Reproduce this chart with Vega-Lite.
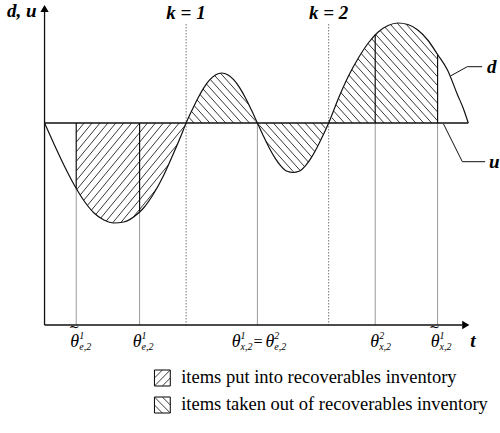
{
  "$schema": "https://vega.github.io/schema/vega-lite/v6.json",
  "width": 500,
  "height": 433,
  "autosize": {"type": "fit", "contains": "padding"},
  "padding": 0,
  "background": "white",
  "config": {"view": {"stroke": null}},
  "datasets": {
    "curve": [
      {"t": 0, "d": 0, "lo": 0, "hi": 0},
      {"t": 1, "d": -2.2, "lo": -2.2, "hi": 0},
      {"t": 2, "d": -4.3, "lo": -4.3, "hi": 0},
      {"t": 3, "d": -6.2, "lo": -6.2, "hi": 0},
      {"t": 4, "d": -7.8, "lo": -7.8, "hi": 0},
      {"t": 5, "d": -9.0, "lo": -9.0, "hi": 0},
      {"t": 6, "d": -9.7, "lo": -9.7, "hi": 0},
      {"t": 7, "d": -10.0, "lo": -10.0, "hi": 0},
      {"t": 8, "d": -9.9, "lo": -9.9, "hi": 0},
      {"t": 9, "d": -9.4, "lo": -9.4, "hi": 0},
      {"t": 10, "d": -8.5, "lo": -8.5, "hi": 0},
      {"t": 11, "d": -7.1, "lo": -7.1, "hi": 0},
      {"t": 12, "d": -5.3, "lo": -5.3, "hi": 0},
      {"t": 13, "d": -3.1, "lo": -3.1, "hi": 0},
      {"t": 14, "d": -0.75, "lo": -0.75, "hi": 0},
      {"t": 14.3, "d": 0, "lo": 0, "hi": 0},
      {"t": 14.9, "d": 1.29, "lo": 0, "hi": 1.29},
      {"t": 15.5, "d": 2.5, "lo": 0, "hi": 2.5},
      {"t": 16.1, "d": 3.54, "lo": 0, "hi": 3.54},
      {"t": 16.7, "d": 4.33, "lo": 0, "hi": 4.33},
      {"t": 17.3, "d": 4.83, "lo": 0, "hi": 4.83},
      {"t": 17.9, "d": 5.0, "lo": 0, "hi": 5.0},
      {"t": 18.5, "d": 4.83, "lo": 0, "hi": 4.83},
      {"t": 19.1, "d": 4.33, "lo": 0, "hi": 4.33},
      {"t": 19.7, "d": 3.54, "lo": 0, "hi": 3.54},
      {"t": 20.3, "d": 2.5, "lo": 0, "hi": 2.5},
      {"t": 20.9, "d": 1.29, "lo": 0, "hi": 1.29},
      {"t": 21.5, "d": 0, "lo": 0, "hi": 0},
      {"t": 22.1, "d": -1.29, "lo": -1.29, "hi": 0},
      {"t": 22.7, "d": -2.5, "lo": -2.5, "hi": 0},
      {"t": 23.3, "d": -3.54, "lo": -3.54, "hi": 0},
      {"t": 23.9, "d": -4.33, "lo": -4.33, "hi": 0},
      {"t": 24.5, "d": -4.83, "lo": -4.83, "hi": 0},
      {"t": 25.1, "d": -4.95, "lo": -4.95, "hi": 0},
      {"t": 25.7, "d": -4.83, "lo": -4.83, "hi": 0},
      {"t": 26.3, "d": -4.33, "lo": -4.33, "hi": 0},
      {"t": 26.9, "d": -3.54, "lo": -3.54, "hi": 0},
      {"t": 27.5, "d": -2.5, "lo": -2.5, "hi": 0},
      {"t": 28.1, "d": -1.29, "lo": -1.29, "hi": 0},
      {"t": 28.7, "d": 0, "lo": 0, "hi": 0},
      {"t": 29.7, "d": 2.5, "lo": 0, "hi": 2.5},
      {"t": 30.7, "d": 4.7, "lo": 0, "hi": 4.7},
      {"t": 31.7, "d": 6.5, "lo": 0, "hi": 6.5},
      {"t": 32.7, "d": 8.0, "lo": 0, "hi": 8.0},
      {"t": 33.7, "d": 9.1, "lo": 0, "hi": 9.1},
      {"t": 34.7, "d": 9.75, "lo": 0, "hi": 9.75},
      {"t": 35.7, "d": 10.0, "lo": 0, "hi": 10.0},
      {"t": 36.7, "d": 9.85, "lo": 0, "hi": 9.85},
      {"t": 37.7, "d": 9.3, "lo": 0, "hi": 9.3},
      {"t": 38.7, "d": 8.3, "lo": 0, "hi": 8.3},
      {"t": 39.7, "d": 6.85, "lo": 0, "hi": 6.85},
      {"t": 40.7, "d": 5.3, "lo": 0, "hi": 5.3},
      {"t": 41.7, "d": 2.85, "lo": 0, "hi": 2.85},
      {"t": 42.3, "d": 1.45, "lo": 0, "hi": 1.45},
      {"t": 42.8, "d": 0, "lo": 0, "hi": 0}
    ],
    "hatchA": [
      {"t1": 3.2, "d1": 0, "t2": 14.3, "d2": 13.32},
      {"t1": 3.2, "d1": -0.96, "t2": 14.3, "d2": 12.36},
      {"t1": 3.2, "d1": -1.92, "t2": 14.3, "d2": 11.4},
      {"t1": 3.2, "d1": -2.88, "t2": 14.3, "d2": 10.44},
      {"t1": 3.2, "d1": -3.84, "t2": 14.3, "d2": 9.48},
      {"t1": 3.2, "d1": -4.8, "t2": 14.3, "d2": 8.52},
      {"t1": 3.2, "d1": -5.76, "t2": 14.3, "d2": 7.56},
      {"t1": 3.2, "d1": -6.72, "t2": 14.3, "d2": 6.6},
      {"t1": 3.2, "d1": -7.68, "t2": 14.3, "d2": 5.64},
      {"t1": 3.2, "d1": -8.64, "t2": 14.3, "d2": 4.68},
      {"t1": 3.2, "d1": -9.6, "t2": 14.3, "d2": 3.72},
      {"t1": 3.2, "d1": -10.56, "t2": 14.3, "d2": 2.76},
      {"t1": 3.2, "d1": -11.52, "t2": 14.3, "d2": 1.8},
      {"t1": 3.2, "d1": -12.48, "t2": 14.3, "d2": 0.84},
      {"t1": 3.2, "d1": -13.44, "t2": 14.3, "d2": -0.12},
      {"t1": 3.2, "d1": -14.4, "t2": 14.3, "d2": -1.08},
      {"t1": 3.2, "d1": -15.36, "t2": 14.3, "d2": -2.04},
      {"t1": 3.2, "d1": -16.32, "t2": 14.3, "d2": -3.0},
      {"t1": 3.2, "d1": -17.28, "t2": 14.3, "d2": -3.96}
    ],
    "hatchB": [
      {"t1": 14.3, "d1": 0, "t2": 39.7, "d2": -27.94},
      {"t1": 14.3, "d1": 0.88, "t2": 39.7, "d2": -27.06},
      {"t1": 14.3, "d1": 1.76, "t2": 39.7, "d2": -26.18},
      {"t1": 14.3, "d1": 2.64, "t2": 39.7, "d2": -25.3},
      {"t1": 14.3, "d1": 3.52, "t2": 39.7, "d2": -24.42},
      {"t1": 14.3, "d1": 4.4, "t2": 39.7, "d2": -23.54},
      {"t1": 14.3, "d1": 5.28, "t2": 39.7, "d2": -22.66},
      {"t1": 14.3, "d1": 6.16, "t2": 39.7, "d2": -21.78},
      {"t1": 14.3, "d1": 7.04, "t2": 39.7, "d2": -20.9},
      {"t1": 14.3, "d1": 7.92, "t2": 39.7, "d2": -20.02},
      {"t1": 14.3, "d1": 8.8, "t2": 39.7, "d2": -19.14},
      {"t1": 14.3, "d1": 9.68, "t2": 39.7, "d2": -18.26},
      {"t1": 14.3, "d1": 10.56, "t2": 39.7, "d2": -17.38},
      {"t1": 14.3, "d1": 11.44, "t2": 39.7, "d2": -16.5},
      {"t1": 14.3, "d1": 12.32, "t2": 39.7, "d2": -15.62},
      {"t1": 14.3, "d1": 13.2, "t2": 39.7, "d2": -14.74},
      {"t1": 14.3, "d1": 14.08, "t2": 39.7, "d2": -13.86},
      {"t1": 14.3, "d1": 14.96, "t2": 39.7, "d2": -12.98},
      {"t1": 14.3, "d1": 15.84, "t2": 39.7, "d2": -12.1},
      {"t1": 14.3, "d1": 16.72, "t2": 39.7, "d2": -11.22},
      {"t1": 14.3, "d1": 17.6, "t2": 39.7, "d2": -10.34},
      {"t1": 14.3, "d1": 18.48, "t2": 39.7, "d2": -9.46},
      {"t1": 14.3, "d1": 19.36, "t2": 39.7, "d2": -8.58},
      {"t1": 14.3, "d1": 20.24, "t2": 39.7, "d2": -7.7},
      {"t1": 14.3, "d1": 21.12, "t2": 39.7, "d2": -6.82},
      {"t1": 14.3, "d1": 22.0, "t2": 39.7, "d2": -5.94},
      {"t1": 14.3, "d1": 22.88, "t2": 39.7, "d2": -5.06},
      {"t1": 14.3, "d1": 23.76, "t2": 39.7, "d2": -4.18},
      {"t1": 14.3, "d1": 24.64, "t2": 39.7, "d2": -3.3},
      {"t1": 14.3, "d1": 25.52, "t2": 39.7, "d2": -2.42},
      {"t1": 14.3, "d1": 26.4, "t2": 39.7, "d2": -1.54},
      {"t1": 14.3, "d1": 27.28, "t2": 39.7, "d2": -0.66},
      {"t1": 14.3, "d1": 28.16, "t2": 39.7, "d2": 0.22},
      {"t1": 14.3, "d1": 29.04, "t2": 39.7, "d2": 1.1},
      {"t1": 14.3, "d1": 29.92, "t2": 39.7, "d2": 1.98},
      {"t1": 14.3, "d1": 30.8, "t2": 39.7, "d2": 2.86},
      {"t1": 14.3, "d1": 31.68, "t2": 39.7, "d2": 3.74},
      {"t1": 14.3, "d1": 32.56, "t2": 39.7, "d2": 4.62},
      {"t1": 14.3, "d1": 33.44, "t2": 39.7, "d2": 5.5},
      {"t1": 14.3, "d1": 34.32, "t2": 39.7, "d2": 6.38},
      {"t1": 14.3, "d1": 35.2, "t2": 39.7, "d2": 7.26}
    ],
    "grayLines": [
      {"t": 3.2, "a": -6.52, "b": -20.2},
      {"t": 9.6, "a": -8.86, "b": -20.2},
      {"t": 21.5, "a": 0, "b": -20.2},
      {"t": 33.4, "a": 0, "b": -20.2},
      {"t": 39.7, "a": 0, "b": -20.2}
    ],
    "kLines": [
      {"t": 14.3, "a": 9.9, "b": -20.2},
      {"t": 28.7, "a": 9.9, "b": -20.2}
    ],
    "blackLines": [
      {"t": 3.2, "a": 0, "b": -6.52},
      {"t": 9.6, "a": 0, "b": -8.86},
      {"t": 33.4, "a": 0, "b": 8.85},
      {"t": 39.7, "a": 0, "b": 6.85}
    ],
    "axes": [
      {"t1": 0, "d1": -20.2, "t2": 0, "d2": 11.2},
      {"t1": 0, "d1": -20.2, "t2": 42.2, "d2": -20.2},
      {"t1": 0, "d1": 0, "t2": 42.8, "d2": 0}
    ],
    "arrows": [
      {"t": 0, "d": 11.45, "dir": "up"},
      {"t": 42.55, "d": -20.2, "dir": "right"}
    ],
    "leaders": [
      {"id": "d", "o": 1, "t": 41.0, "d": 4.7},
      {"id": "d", "o": 2, "t": 42.7, "d": 5.63},
      {"id": "d", "o": 3, "t": 44.2, "d": 5.63},
      {"id": "u", "o": 1, "t": 40.3, "d": -0.1},
      {"id": "u", "o": 2, "t": 42.2, "d": -3.87},
      {"id": "u", "o": 3, "t": 44.5, "d": -3.87}
    ],
    "boldText": [
      {"t": -3.8, "d": 10.6, "s": "d, u"},
      {"t": 12.3, "d": 10.4, "s": "k = 1"},
      {"t": 26.7, "d": 10.4, "s": "k = 2"},
      {"t": 44.7, "d": 5.0, "s": "d"},
      {"t": 44.9, "d": -4.5, "s": "u"},
      {"t": 43.0, "d": -22.4, "s": "t"}
    ],
    "thetas": [
      {"t": 3.5, "d": -22.4, "sup": "1", "sub": "e,2", "tl": "~"},
      {"t": 9.8, "d": -22.4, "sup": "1", "sub": "e,2", "tl": ""},
      {"t": 19.8, "d": -22.4, "sup": "1", "sub": "x,2", "tl": ""},
      {"t": 23.2, "d": -22.4, "sup": "2", "sub": "e,2", "tl": ""},
      {"t": 33.8, "d": -22.4, "sup": "2", "sub": "x,2", "tl": ""},
      {"t": 39.9, "d": -22.4, "sup": "1", "sub": "x,2", "tl": "~"}
    ],
    "eq": [
      {"t": 21.55, "d": -22.4, "s": "="}
    ],
    "legBoxes": [
      {"t1": 11.1, "d1": -24.7, "t2": 12.7, "d2": -26.3},
      {"t1": 11.1, "d1": -27.4, "t2": 12.7, "d2": -29.0}
    ],
    "legHatch": [
      {"t1": 11.9, "d1": -26.3, "t2": 12.7, "d2": -25.5},
      {"t1": 11.1, "d1": -26.3, "t2": 12.7, "d2": -24.7},
      {"t1": 11.1, "d1": -25.5, "t2": 11.9, "d2": -24.7},
      {"t1": 11.1, "d1": -27.4, "t2": 12.7, "d2": -29.0},
      {"t1": 11.1, "d1": -28.2, "t2": 11.9, "d2": -29.0},
      {"t1": 11.9, "d1": -27.4, "t2": 12.7, "d2": -28.2}
    ],
    "legText": [
      {"t": 13.8, "d": -26.0, "s": "items put into recoverables inventory"},
      {"t": 13.8, "d": -28.7, "s": "items taken out of recoverables inventory"}
    ]
  },
  "layer": [
    {
      "data": {"name": "hatchA"},
      "mark": {"type": "rule", "color": "#222", "strokeWidth": 0.9, "clip": true},
      "encoding": {
        "x": {"field": "t1", "type": "quantitative", "scale": {"domain": [-4.5, 45.5], "nice": false, "zero": false}, "axis": null},
        "x2": {"field": "t2"},
        "y": {"field": "d1", "type": "quantitative", "scale": {"domain": [-31, 12.3], "nice": false, "zero": false}, "axis": null},
        "y2": {"field": "d2"}
      }
    },
    {
      "data": {"name": "hatchB"},
      "mark": {"type": "rule", "color": "#222", "strokeWidth": 0.9, "clip": true},
      "encoding": {
        "x": {"field": "t1", "type": "quantitative", "scale": {"domain": [-4.5, 45.5], "nice": false, "zero": false}, "axis": null},
        "x2": {"field": "t2"},
        "y": {"field": "d1", "type": "quantitative", "scale": {"domain": [-31, 12.3], "nice": false, "zero": false}, "axis": null},
        "y2": {"field": "d2"}
      }
    },
    {
      "data": {"name": "curve"},
      "mark": {"type": "area", "color": "white", "opacity": 1, "interpolate": "monotone"},
      "encoding": {
        "x": {"field": "t", "type": "quantitative", "scale": {"domain": [-4.5, 45.5], "nice": false, "zero": false}, "axis": null},
        "y": {"field": "lo", "type": "quantitative", "scale": {"domain": [-31, 12.3], "nice": false, "zero": false}, "axis": null},
        "y2": {"datum": -31}
      }
    },
    {
      "data": {"name": "curve"},
      "mark": {"type": "area", "color": "white", "opacity": 1, "interpolate": "monotone"},
      "encoding": {
        "x": {"field": "t", "type": "quantitative", "scale": {"domain": [-4.5, 45.5], "nice": false, "zero": false}, "axis": null},
        "y": {"field": "hi", "type": "quantitative", "scale": {"domain": [-31, 12.3], "nice": false, "zero": false}, "axis": null},
        "y2": {"datum": 12.3}
      }
    },
    {
      "data": {"name": "grayLines"},
      "mark": {"type": "rule", "color": "#9a9a9a", "strokeWidth": 1},
      "encoding": {
        "x": {"field": "t", "type": "quantitative", "scale": {"domain": [-4.5, 45.5], "nice": false, "zero": false}, "axis": null},
        "y": {"field": "a", "type": "quantitative", "scale": {"domain": [-31, 12.3], "nice": false, "zero": false}, "axis": null},
        "y2": {"field": "b"}
      }
    },
    {
      "data": {"name": "kLines"},
      "mark": {"type": "rule", "color": "#777", "strokeWidth": 1, "strokeDash": [1.5, 1.5]},
      "encoding": {
        "x": {"field": "t", "type": "quantitative", "scale": {"domain": [-4.5, 45.5], "nice": false, "zero": false}, "axis": null},
        "y": {"field": "a", "type": "quantitative", "scale": {"domain": [-31, 12.3], "nice": false, "zero": false}, "axis": null},
        "y2": {"field": "b"}
      }
    },
    {
      "data": {"name": "blackLines"},
      "mark": {"type": "rule", "color": "#111", "strokeWidth": 1.2},
      "encoding": {
        "x": {"field": "t", "type": "quantitative", "scale": {"domain": [-4.5, 45.5], "nice": false, "zero": false}, "axis": null},
        "y": {"field": "a", "type": "quantitative", "scale": {"domain": [-31, 12.3], "nice": false, "zero": false}, "axis": null},
        "y2": {"field": "b"}
      }
    },
    {
      "data": {"name": "axes"},
      "mark": {"type": "rule", "color": "#111", "strokeWidth": 1.3},
      "encoding": {
        "x": {"field": "t1", "type": "quantitative", "scale": {"domain": [-4.5, 45.5], "nice": false, "zero": false}, "axis": null},
        "x2": {"field": "t2"},
        "y": {"field": "d1", "type": "quantitative", "scale": {"domain": [-31, 12.3], "nice": false, "zero": false}, "axis": null},
        "y2": {"field": "d2"}
      }
    },
    {
      "data": {"name": "curve"},
      "mark": {"type": "line", "color": "#111", "strokeWidth": 1.2, "interpolate": "monotone"},
      "encoding": {
        "x": {"field": "t", "type": "quantitative", "scale": {"domain": [-4.5, 45.5], "nice": false, "zero": false}, "axis": null},
        "y": {"field": "d", "type": "quantitative", "scale": {"domain": [-31, 12.3], "nice": false, "zero": false}, "axis": null}
      }
    },
    {
      "data": {"name": "leaders"},
      "mark": {"type": "line", "color": "#111", "strokeWidth": 1},
      "encoding": {
        "x": {"field": "t", "type": "quantitative", "scale": {"domain": [-4.5, 45.5], "nice": false, "zero": false}, "axis": null},
        "y": {"field": "d", "type": "quantitative", "scale": {"domain": [-31, 12.3], "nice": false, "zero": false}, "axis": null},
        "detail": {"field": "id"},
        "order": {"field": "o"}
      }
    },
    {
      "data": {"name": "arrows"},
      "mark": {"type": "point", "filled": true, "color": "#000", "opacity": 1, "size": 70},
      "encoding": {
        "x": {"field": "t", "type": "quantitative", "scale": {"domain": [-4.5, 45.5], "nice": false, "zero": false}, "axis": null},
        "y": {"field": "d", "type": "quantitative", "scale": {"domain": [-31, 12.3], "nice": false, "zero": false}, "axis": null},
        "shape": {"field": "dir", "type": "nominal", "scale": {"domain": ["up", "right"], "range": ["triangle-up", "triangle-right"]}, "legend": null}
      }
    },
    {
      "data": {"name": "boldText"},
      "mark": {"type": "text", "align": "left", "baseline": "alphabetic", "font": "Liberation Serif", "fontSize": 19, "fontStyle": "italic", "fontWeight": "bold", "color": "#000"},
      "encoding": {
        "x": {"field": "t", "type": "quantitative", "scale": {"domain": [-4.5, 45.5], "nice": false, "zero": false}, "axis": null},
        "y": {"field": "d", "type": "quantitative", "scale": {"domain": [-31, 12.3], "nice": false, "zero": false}, "axis": null},
        "text": {"field": "s"}
      }
    },
    {
      "data": {"name": "thetas"},
      "mark": {"type": "text", "align": "right", "baseline": "alphabetic", "font": "Liberation Serif", "fontSize": 18, "fontStyle": "italic", "color": "#000"},
      "encoding": {
        "x": {"field": "t", "type": "quantitative", "scale": {"domain": [-4.5, 45.5], "nice": false, "zero": false}, "axis": null},
        "y": {"field": "d", "type": "quantitative", "scale": {"domain": [-31, 12.3], "nice": false, "zero": false}, "axis": null},
        "text": {"value": "θ"}
      }
    },
    {
      "data": {"name": "thetas"},
      "mark": {"type": "text", "align": "left", "baseline": "alphabetic", "font": "Liberation Serif", "fontSize": 10, "fontStyle": "italic", "color": "#000", "dx": 0, "dy": -8},
      "encoding": {
        "x": {"field": "t", "type": "quantitative", "scale": {"domain": [-4.5, 45.5], "nice": false, "zero": false}, "axis": null},
        "y": {"field": "d", "type": "quantitative", "scale": {"domain": [-31, 12.3], "nice": false, "zero": false}, "axis": null},
        "text": {"field": "sup"}
      }
    },
    {
      "data": {"name": "thetas"},
      "mark": {"type": "text", "align": "left", "baseline": "alphabetic", "font": "Liberation Serif", "fontSize": 10, "fontStyle": "italic", "color": "#000", "dx": 0, "dy": 3},
      "encoding": {
        "x": {"field": "t", "type": "quantitative", "scale": {"domain": [-4.5, 45.5], "nice": false, "zero": false}, "axis": null},
        "y": {"field": "d", "type": "quantitative", "scale": {"domain": [-31, 12.3], "nice": false, "zero": false}, "axis": null},
        "text": {"field": "sub"}
      }
    },
    {
      "data": {"name": "thetas"},
      "mark": {"type": "text", "align": "center", "baseline": "middle", "font": "DejaVu Serif", "fontSize": 13, "color": "#000", "dx": -5, "dy": -20},
      "encoding": {
        "x": {"field": "t", "type": "quantitative", "scale": {"domain": [-4.5, 45.5], "nice": false, "zero": false}, "axis": null},
        "y": {"field": "d", "type": "quantitative", "scale": {"domain": [-31, 12.3], "nice": false, "zero": false}, "axis": null},
        "text": {"field": "tl"}
      }
    },
    {
      "data": {"name": "eq"},
      "mark": {"type": "text", "align": "center", "baseline": "alphabetic", "font": "Liberation Serif", "fontSize": 16, "color": "#000"},
      "encoding": {
        "x": {"field": "t", "type": "quantitative", "scale": {"domain": [-4.5, 45.5], "nice": false, "zero": false}, "axis": null},
        "y": {"field": "d", "type": "quantitative", "scale": {"domain": [-31, 12.3], "nice": false, "zero": false}, "axis": null},
        "text": {"field": "s"}
      }
    },
    {
      "data": {"name": "legBoxes"},
      "mark": {"type": "rect", "filled": false, "stroke": "#000", "strokeWidth": 1},
      "encoding": {
        "x": {"field": "t1", "type": "quantitative", "scale": {"domain": [-4.5, 45.5], "nice": false, "zero": false}, "axis": null},
        "x2": {"field": "t2"},
        "y": {"field": "d1", "type": "quantitative", "scale": {"domain": [-31, 12.3], "nice": false, "zero": false}, "axis": null},
        "y2": {"field": "d2"}
      }
    },
    {
      "data": {"name": "legHatch"},
      "mark": {"type": "rule", "color": "#222", "strokeWidth": 0.9},
      "encoding": {
        "x": {"field": "t1", "type": "quantitative", "scale": {"domain": [-4.5, 45.5], "nice": false, "zero": false}, "axis": null},
        "x2": {"field": "t2"},
        "y": {"field": "d1", "type": "quantitative", "scale": {"domain": [-31, 12.3], "nice": false, "zero": false}, "axis": null},
        "y2": {"field": "d2"}
      }
    },
    {
      "data": {"name": "legText"},
      "mark": {"type": "text", "align": "left", "baseline": "alphabetic", "font": "Liberation Serif", "fontSize": 18.5, "color": "#000"},
      "encoding": {
        "x": {"field": "t", "type": "quantitative", "scale": {"domain": [-4.5, 45.5], "nice": false, "zero": false}, "axis": null},
        "y": {"field": "d", "type": "quantitative", "scale": {"domain": [-31, 12.3], "nice": false, "zero": false}, "axis": null},
        "text": {"field": "s"}
      }
    }
  ]
}
